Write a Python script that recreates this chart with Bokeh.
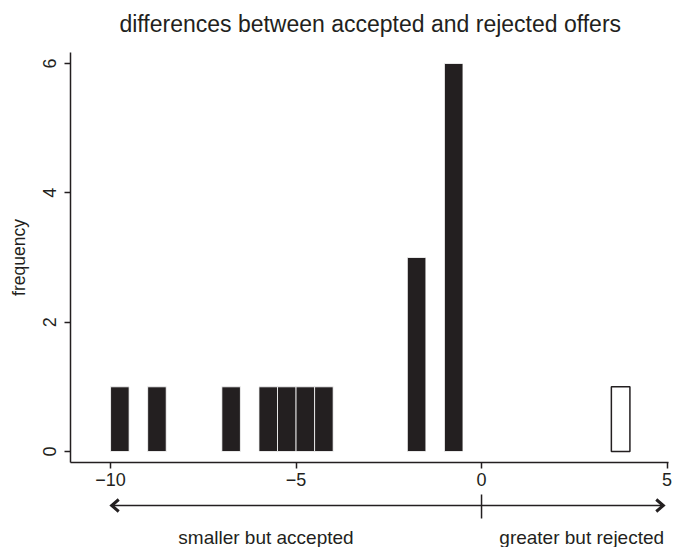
from bokeh.plotting import figure
from bokeh.models import Range1d, FixedTicker, ColumnDataSource
from bokeh.layouts import column
from bokeh.embed import file_html
from bokeh.resources import INLINE
from bokeh.core.properties import value

# ---- data ----
bin_width = 0.5
accepted_left = [-10.0, -9.0, -7.0, -6.0, -5.5, -5.0, -4.5, -2.0, -1.0]
accepted_count = [1, 1, 1, 1, 1, 1, 1, 3, 6]
rejected_left = [3.5]
rejected_count = [1]
x_ticks = [-10, -5, 0, 5]
y_ticks = [0, 2, 4, 6]
title_text = "differences between accepted and rejected offers"
y_label = "frequency"
left_note = "smaller but accepted"
right_note = "greater but rejected"

INK = "#231f20"
FONT = "Liberation Sans"

W = 673
H0, H1, H2 = 44, 450, 53

x_range = Range1d(-11.08, 5.04)


def strip(height):
    f = figure(width=W, height=height, output_backend="svg", toolbar_location=None,
               x_range=x_range, y_range=Range1d(height, 0),
               min_border_left=70, min_border_right=5, min_border_top=0,
               min_border_bottom=0)
    f.outline_line_color = None
    f.axis.visible = False
    f.grid.visible = False
    return f


# ---- title strip ----
t = strip(H0)
t.text(x=[-3.0], y=[23], text=[title_text], text_align="center",
       text_baseline="alphabetic", text_font=value(FONT),
       text_font_size="23px", text_color=INK)

# ---- main histogram ----
p = figure(width=W, height=H1, output_backend="svg", toolbar_location=None,
           x_range=x_range, y_range=Range1d(-0.17, 6.17),
           min_border_left=70, min_border_right=5, min_border_top=8,
           min_border_bottom=32)
p.outline_line_color = None
p.xgrid.visible = False
p.ygrid.visible = False

acc = ColumnDataSource(dict(left=accepted_left,
                            right=[v + bin_width for v in accepted_left],
                            top=accepted_count))
rej = ColumnDataSource(dict(left=rejected_left,
                            right=[v + bin_width for v in rejected_left],
                            top=rejected_count))
p.quad(left="left", right="right", top="top", bottom=0, source=acc,
       fill_color=INK, line_color="white", line_width=0.8)
p.quad(left="left", right="right", top="top", bottom=0, source=rej,
       fill_color="white", line_color=INK, line_width=1.5)

for ax in (p.xaxis[0], p.yaxis[0]):
    ax.axis_line_color = INK
    ax.axis_line_width = 1.5
    ax.major_tick_line_color = INK
    ax.major_tick_line_width = 1.5
    ax.major_tick_out = 6
    ax.major_tick_in = 0
    ax.minor_tick_line_color = None
    ax.major_label_text_font = FONT
    ax.major_label_text_font_size = "18px"
    ax.major_label_text_color = INK

p.xaxis.ticker = FixedTicker(ticks=x_ticks)
p.xaxis.major_label_overrides = {t_: (("\u2212" + str(abs(t_))) if t_ < 0 else str(t_)) for t_ in x_ticks}
p.xaxis.major_label_standoff = 4

p.yaxis.ticker = FixedTicker(ticks=y_ticks)
p.yaxis.major_label_orientation = "vertical"
p.yaxis.major_label_standoff = 8
p.yaxis.axis_label = y_label
p.yaxis.axis_label_text_font = FONT
p.yaxis.axis_label_text_font_size = "17.5px"
p.yaxis.axis_label_text_font_style = "normal"
p.yaxis.axis_label_text_color = INK
p.yaxis.axis_label_standoff = 12

# ---- annotation strip below the axis ----
q = strip(H2)
top0 = H0 + H1
arrow_y = 505 - top0
x_tip_l, x_tip_r = -9.97, 4.9
head_dx = 0.19
q.segment(x0=[x_tip_l], y0=[arrow_y], x1=[x_tip_r], y1=[arrow_y],
          line_color=INK, line_width=1.5)
q.multi_line(xs=[[x_tip_l + head_dx, x_tip_l, x_tip_l + head_dx],
                 [x_tip_r - head_dx, x_tip_r, x_tip_r - head_dx]],
             ys=[[arrow_y - 6, arrow_y, arrow_y + 6]] * 2,
             line_color=INK, line_width=3, line_join="miter")
q.segment(x0=[0], y0=[493 - top0], x1=[0], y1=[518 - top0],
          line_color=INK, line_width=1.5)
q.text(x=[-5.81, 2.70], y=[537 - top0] * 2, text=[left_note, right_note],
       text_align="center", text_baseline="alphabetic",
       text_font=value(FONT), text_font_size="19px", text_color=INK)

layout = column(t, p, q, spacing=0)
open("out.html", "w").write(file_html(layout, INLINE))
